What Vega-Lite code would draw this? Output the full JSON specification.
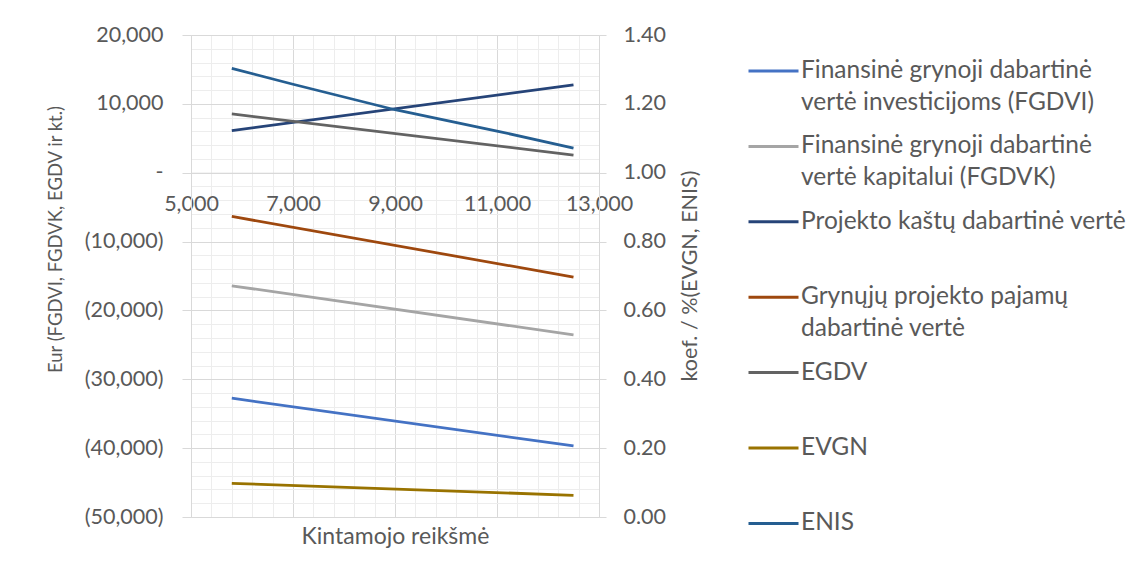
{
  "$schema": "https://vega.github.io/schema/vega-lite/v6.json",
  "width": 408,
  "height": 482,
  "autosize": {"type": "none"},
  "padding": {"left": 191, "top": 35, "right": 527, "bottom": 60},
  "background": "white",
  "config": {
    "view": {"stroke": null},
    "font": "Lato",
    "axis": {
      "labelFont": "Lato",
      "labelFontSize": 21.5,
      "labelColor": "#595959",
      "titleFont": "Lato",
      "titleFontSize": 21,
      "titleFontWeight": "normal",
      "titleColor": "#595959",
      "domainColor": "#d9d9d9",
      "tickColor": "#d9d9d9",
      "gridColor": "#d9d9d9"
    }
  },
  "datasets": {
    "left": [
      {"series": "Finansinė grynoji dabartinė vertė investicijoms (FGDVI)", "x": 5800, "value": -32750},
      {"series": "Finansinė grynoji dabartinė vertė investicijoms (FGDVI)", "x": 12500, "value": -39680},
      {"series": "Finansinė grynoji dabartinė vertė kapitalui (FGDVK)", "x": 5800, "value": -16420},
      {"series": "Finansinė grynoji dabartinė vertė kapitalui (FGDVK)", "x": 12500, "value": -23550},
      {"series": "Projekto kaštų dabartinė vertė", "x": 5800, "value": 6100},
      {"series": "Projekto kaštų dabartinė vertė", "x": 12500, "value": 12750},
      {"series": "Grynųjų projekto pajamų dabartinė vertė", "x": 5800, "value": -6350},
      {"series": "Grynųjų projekto pajamų dabartinė vertė", "x": 12500, "value": -15160},
      {"series": "EGDV", "x": 5800, "value": 8530},
      {"series": "EGDV", "x": 12500, "value": 2570}
    ],
    "right": [
      {"series": "EVGN", "x": 5800, "value": 0.098},
      {"series": "EVGN", "x": 12500, "value": 0.063},
      {"series": "ENIS", "x": 5800, "value": 1.303},
      {"series": "ENIS", "x": 7000, "value": 1.257},
      {"series": "ENIS", "x": 9000, "value": 1.183},
      {"series": "ENIS", "x": 11000, "value": 1.121},
      {"series": "ENIS", "x": 12500, "value": 1.0715}
    ]
  },
  "resolve": {
    "scale": {"y": "independent"},
    "axis": {"x": "independent", "y": "independent"}
  },
  "layer": [
    {
      "data": {"name": "left"},
      "mark": {"type": "point", "opacity": 0},
      "encoding": {
        "x": {
          "field": "x", "type": "quantitative",
          "scale": {"domain": [5000, 13000], "nice": false, "zero": false},
          "axis": {
            "orient": "bottom",
            "values": [5400, 5800, 6200, 6600, 7400, 7800, 8200, 8600, 9400, 9800, 10200, 10600, 11400, 11800, 12200, 12600],
            "grid": true, "gridColor": "#ededed", "labels": false, "ticks": false, "domain": false, "title": null
          }
        },
        "y": {
          "field": "value", "type": "quantitative",
          "scale": {"domain": [-50000, 20000], "nice": false, "zero": false},
          "axis": {
            "orient": "left",
            "values": [-48000, -46000, -44000, -42000, -38000, -36000, -34000, -32000, -28000, -26000, -24000, -22000, -18000, -16000, -14000, -12000, -8000, -6000, -4000, -2000, 2000, 4000, 6000, 8000, 12000, 14000, 16000, 18000],
            "grid": true, "gridColor": "#ededed", "labels": false, "ticks": false, "domain": false, "title": null
          }
        }
      }
    },
    {
      "data": {"name": "left"},
      "mark": {"type": "line", "strokeWidth": 2.75},
      "encoding": {
        "x": {
          "field": "x", "type": "quantitative",
          "scale": {"domain": [5000, 13000], "nice": false, "zero": false},
          "axis": {
            "orient": "bottom",
            "values": [5000, 7000, 9000, 11000, 13000],
            "format": ",.0f",
            "grid": true,
            "ticks": false,
            "labelFlush": false,
            "labelOverlap": false,
            "offset": -344.29,
            "labelPadding": 21,
            "title": "Kintamojo reikšmė",
            "titleFontSize": 23,
            "titleY": 364,
            "titleBaseline": "middle"
          }
        },
        "y": {
          "field": "value", "type": "quantitative",
          "scale": {"domain": [-50000, 20000], "nice": false, "zero": false},
          "axis": {
            "orient": "left",
            "values": [-50000, -40000, -30000, -20000, -10000, 0, 10000, 20000],
            "labelExpr": "datum.value < 0 ? '(' + format(-datum.value, ',.0f') + ')' : datum.value == 0 ? '-' : format(datum.value, ',.0f')",
            "encode": {"labels": {"update": {"dx": {"signal": "datum.value >= 0 ? -6 : 0"}}}},
            "grid": true,
            "tickSize": 9,
            "labelPadding": 19,
            "title": "Eur (FGDVI, FGDVK, EGDV ir kt.)",
            "titleFontSize": 18.5,
            "titleX": -136,
            "titleY": 204,
            "titleBaseline": "middle"
          }
        },
        "color": {
          "field": "series", "type": "nominal",
          "scale": {
            "domain": ["Finansinė grynoji dabartinė vertė investicijoms (FGDVI)", "Finansinė grynoji dabartinė vertė kapitalui (FGDVK)", "Projekto kaštų dabartinė vertė", "Grynųjų projekto pajamų dabartinė vertė", "EGDV", "EVGN", "ENIS"],
            "range": ["#4472C4", "#A5A5A5", "#264478", "#9E480E", "#636363", "#997300", "#255E91"]
          },
          "legend": {
            "orient": "none",
            "legendX": 556,
            "legendY": 16,
            "title": null,
            "padding": 0,
            "symbolType": "stroke",
            "symbolSize": 2500,
            "symbolStrokeWidth": 3,
            "labelFont": "Lato",
            "labelFontSize": 24.5,
            "labelColor": "#595959",
            "labelLimit": 700,
            "labelOffset": 1,
            "clipHeight": 40,
            "rowPadding": 12.4,
            "labelExpr": "datum.label == 'Finansinė grynoji dabartinė vertė investicijoms (FGDVI)' ? ['Finansinė grynoji dabartinė', 'vertė investicijoms (FGDVI)'] : datum.label == 'Finansinė grynoji dabartinė vertė kapitalui (FGDVK)' ? ['Finansinė grynoji dabartinė', 'vertė kapitalui (FGDVK)'] : datum.label == 'Grynųjų projekto pajamų dabartinė vertė' ? ['Grynųjų projekto pajamų', 'dabartinė vertė'] : [datum.label, ' ']",
            "encode": {"labels": {"update": {"lineHeight": {"value": 31.5}}}}
          }
        }
      }
    },
    {
      "data": {"name": "right"},
      "mark": {"type": "line", "strokeWidth": 2.75},
      "encoding": {
        "x": {
          "field": "x", "type": "quantitative",
          "scale": {"domain": [5000, 13000], "nice": false, "zero": false},
          "axis": null
        },
        "y": {
          "field": "value", "type": "quantitative",
          "scale": {"domain": [0, 1.4], "nice": false, "zero": false},
          "axis": {
            "orient": "right",
            "values": [0, 0.2, 0.4, 0.6, 0.8, 1.0, 1.2, 1.4],
            "format": ".2f",
            "grid": false,
            "tickSize": 7,
            "labelPadding": 17,
            "title": "koef. / %(EVGN, ENIS)",
            "titleFontSize": 21.5,
            "titleAngle": 270,
            "titleX": 91.5,
            "titleY": 240.5,
            "titleBaseline": "middle"
          }
        },
        "color": {
          "field": "series", "type": "nominal",
          "scale": {
            "domain": ["Finansinė grynoji dabartinė vertė investicijoms (FGDVI)", "Finansinė grynoji dabartinė vertė kapitalui (FGDVK)", "Projekto kaštų dabartinė vertė", "Grynųjų projekto pajamų dabartinė vertė", "EGDV", "EVGN", "ENIS"],
            "range": ["#4472C4", "#A5A5A5", "#264478", "#9E480E", "#636363", "#997300", "#255E91"]
          }
        }
      }
    }
  ]
}
